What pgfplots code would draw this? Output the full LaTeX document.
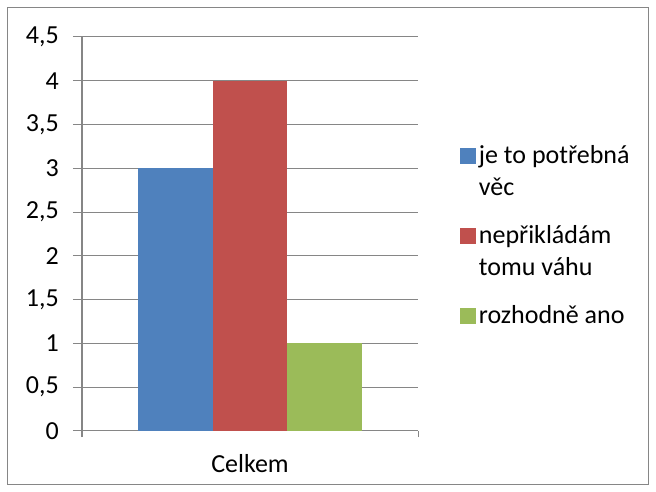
\documentclass[border=0pt]{standalone}
\usepackage{fontspec}
\setmainfont{Carlito}
\usepackage{pgfplots}
\pgfplotsset{compat=1.18}
\definecolor{cblue}{HTML}{4F81BD}
\definecolor{cred}{HTML}{C0504D}
\definecolor{cgreen}{HTML}{9BBB59}
\definecolor{cgrid}{HTML}{868686}
\newcommand{\strA}{\rule[-7.2pt]{0pt}{24pt}}
\newcommand{\strC}{\rule[-7.2pt]{0pt}{36.4pt}}
\begin{document}
\fontsize{19.5}{24}\selectfont
\begin{tikzpicture}
\path[use as bounding box] (0,0) rectangle (492pt,369pt);
\draw[cgrid, line width=0.75pt] (5.25pt,5.25pt) rectangle (486.5pt,363.5pt);
\begin{axis}[
  at={(61.5pt,45.75pt)}, anchor=south west,
  scale only axis, width=252pt, height=295.5pt,
  ymin=0, ymax=4.5, ytick={0,0.5,1,1.5,2,2.5,3,3.5,4,4.5},
  xmin=-0.5, xmax=0.5,
  ybar=0pt, bar width=56pt,
  axis lines=left, axis line style={-, cgrid, line width=0.75pt},
  ymajorgrids, grid style={cgrid, line width=0.75pt},
  tick style={cgrid, line width=0.75pt},
  major tick length=6.75pt, tick align=outside,
  xtick={0}, xticklabels={Celkem}, xtick style={draw=none},
  extra x ticks={-0.5,0.5}, extra x tick labels={},
  extra x tick style={major tick length=4.5pt, xtick style={draw=cgrid}, grid=none},
  /pgf/number format/assume math mode=true,
  /pgf/number format/use comma,
  yticklabel style={anchor=east, xshift=-4pt},
  xticklabel style={yshift=-4pt},
  legend style={at={(axis description cs:1.125,0.742)}, anchor=north west,
    draw=none, fill=none, inner sep=0pt, cells={anchor=base west},
    row sep=0pt, /tikz/every even column/.append style={column sep=4pt}},
  legend image code/.code={\fill[#1] (0pt,0pt) rectangle (12pt,12pt);},
]
\addplot[fill=cblue, draw=none] coordinates {(0,3)};
\addlegendentry{\strA je to potřebná}
\addlegendimage{empty legend}
\addlegendentry{\strA věc}
\addplot[fill=cred, draw=none] coordinates {(0,4)};
\addlegendentry{\strC nepřikládám}
\addlegendimage{empty legend}
\addlegendentry{\strA tomu váhu}
\addplot[fill=cgreen, draw=none] coordinates {(0,1)};
\addlegendentry{\strC rozhodně ano}
\end{axis}
\end{tikzpicture}
\end{document}
